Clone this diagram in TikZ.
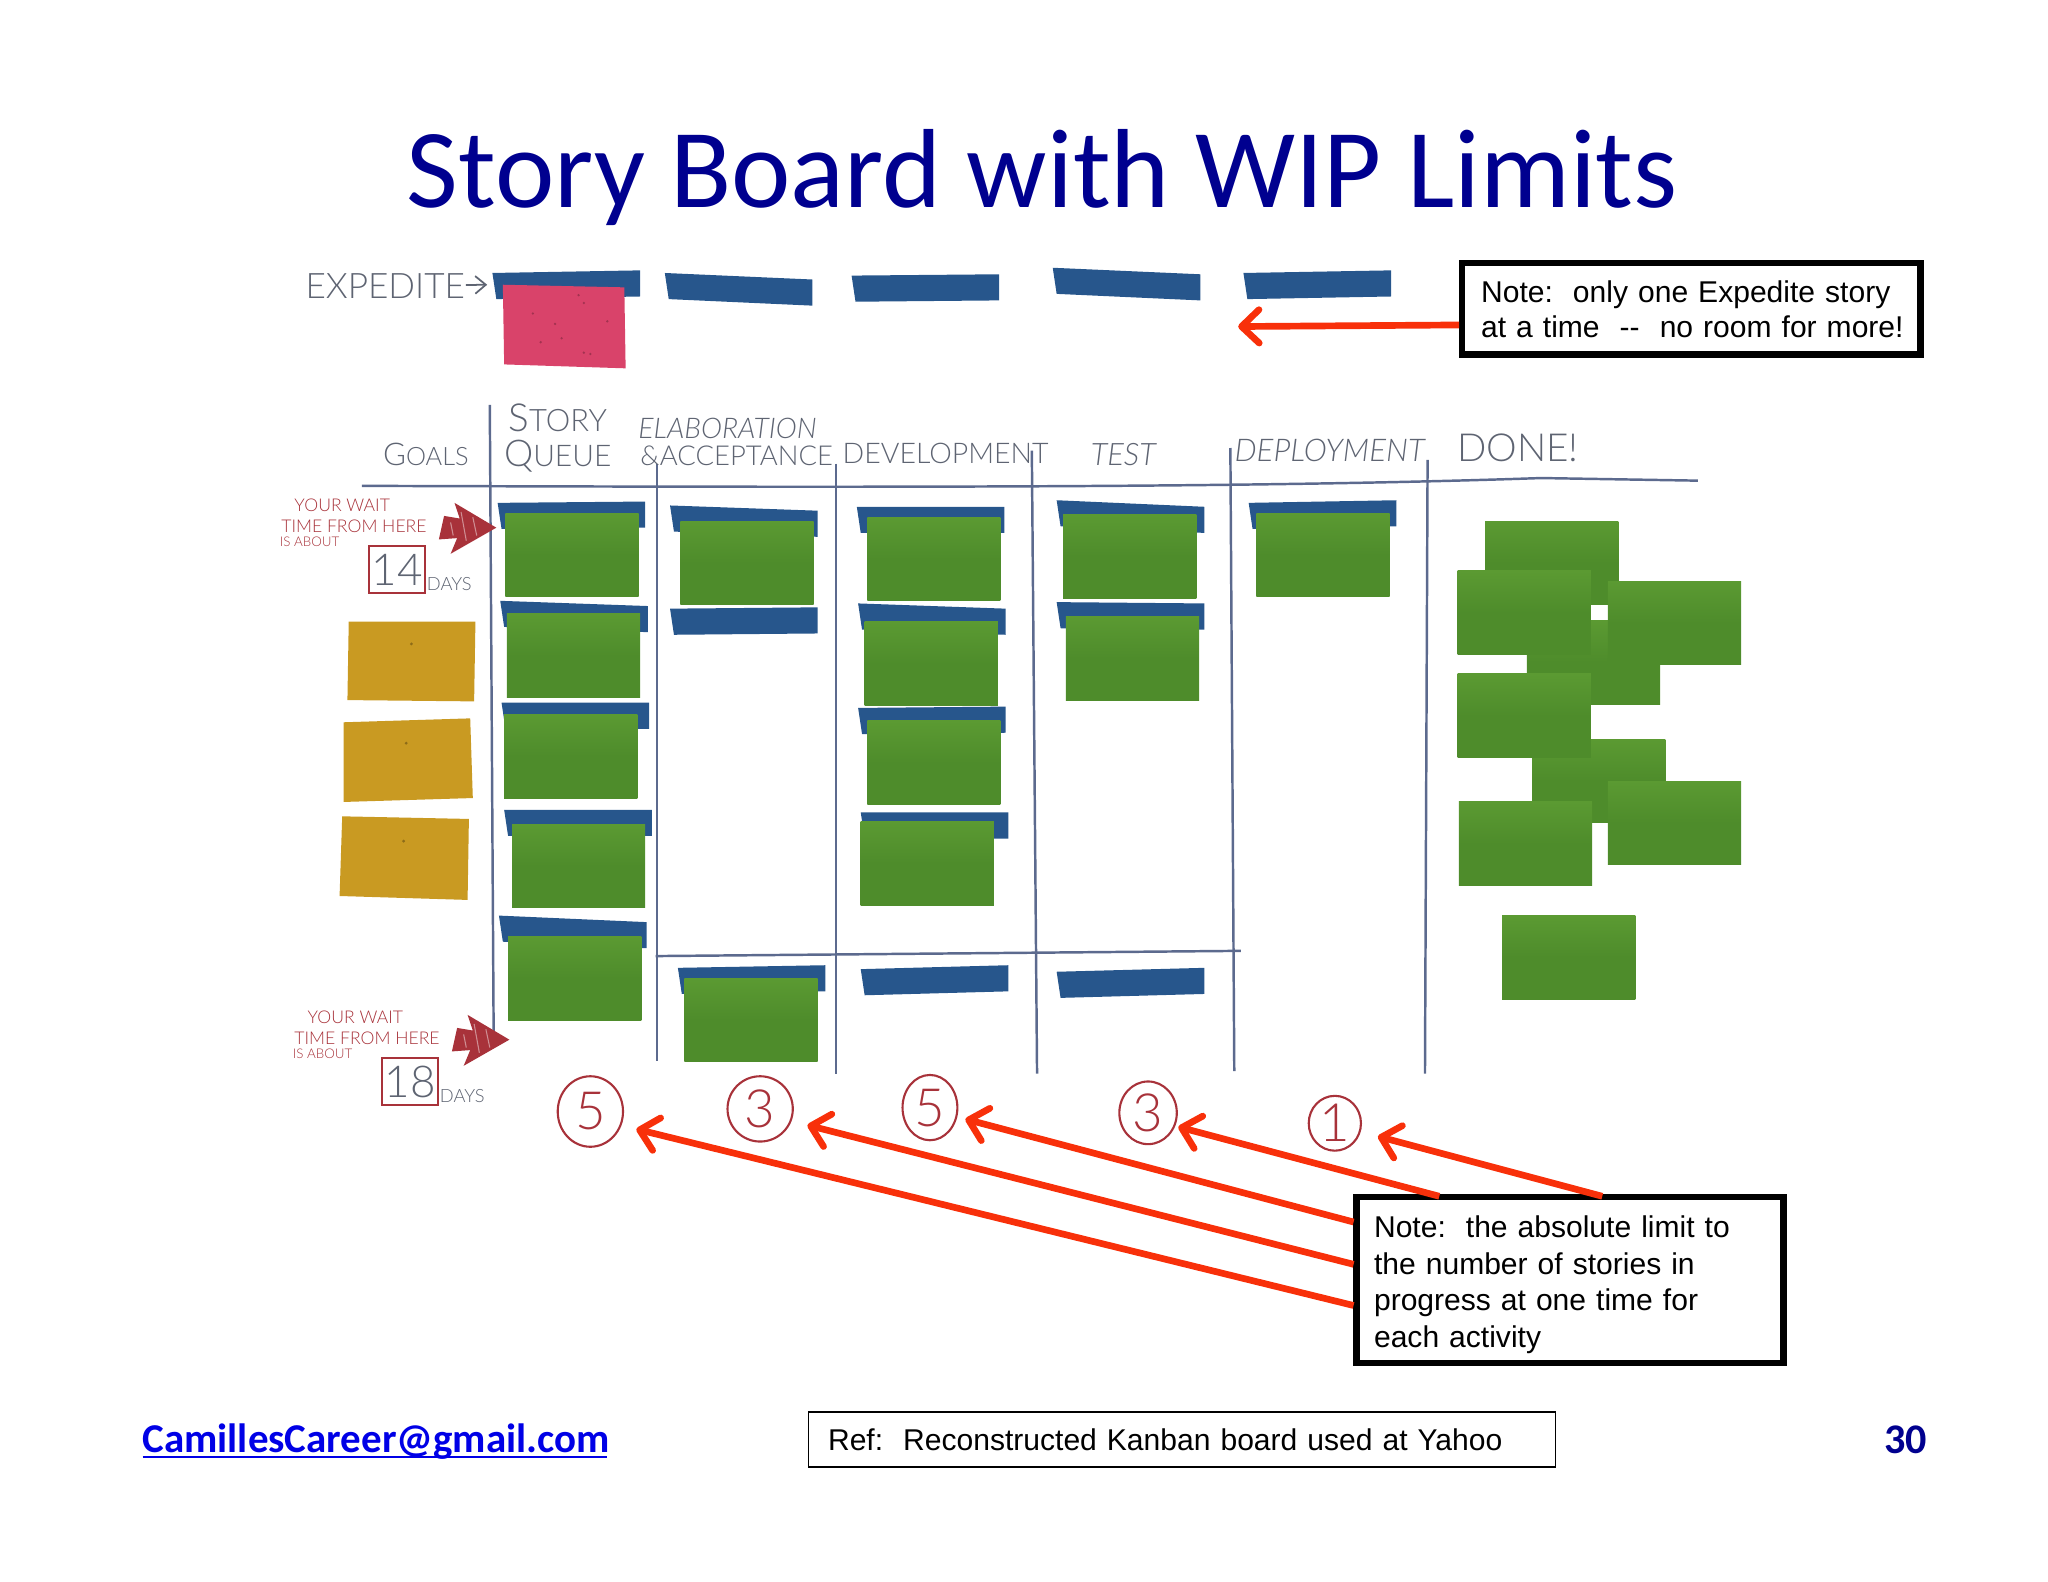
\documentclass[tikz,border=0pt]{standalone}
\usepackage{fontspec}
\usetikzlibrary{arrows.meta}
\setmainfont{Liberation Sans}
\newfontfamily\titlefont{Carlito}
\newfontfamily\handfont{Lato}[UprightFont=* Light,ItalicFont=* Light Italic]
\definecolor{titleblue}{HTML}{00008F}
\definecolor{mailblue}{HTML}{0000E6}
\definecolor{arrowred}{HTML}{F8300A}
\definecolor{tabblue}{HTML}{27568C}
\definecolor{cardgreen}{HTML}{4E8C2B}
\definecolor{cardgreenlight}{HTML}{5B9A32}
\definecolor{cardgold}{HTML}{C99A22}
\definecolor{cardpink}{HTML}{D9436A}
\definecolor{boardline}{HTML}{5C6A8E}
\definecolor{pengrey}{HTML}{5E6472}
\definecolor{penred}{HTML}{A8323A}
\tikzset{
    note/.style={draw, line width=1.85pt, align=left, font=\fontsize{8.55}{#1}\selectfont\frenchspacing, outer sep=0pt},
    tipline/.style={draw=arrowred, line width=1.9pt, shorten <=0.03cm, -{Straight Barb[length=5pt, width=9.5pt, round]}},
    greencard/.style={top color=cardgreenlight, bottom color=cardgreen, middle color=cardgreen},
    boardrule/.style={draw=boardline, line width=0.7pt},
    hand/.style={text=pengrey, font=\handfont\fontsize{#1}{#1}\selectfont, inner sep=0pt},
    waithand/.style={text=penred, font=\handfont\fontsize{#1}{#1}\selectfont, inner sep=0pt},
    limit/.style={circle, inner sep=0pt, outer sep=0pt, text=penred, font=\handfont\fontsize{15}{15}\selectfont, minimum size=#1}
}
\begin{document}
\begin{tikzpicture}[x=0.013061cm, y=-0.013061cm]
    \useasboundingbox (0, 0) rectangle (1568, 1211);
    \node[text=titleblue, font=\titlefont\fontsize{32}{32}\selectfont, inner sep=0pt] (title) at (798, 136) {Story Board with WIP Limits};
    % Blue holders
    \foreach \x/\y/\t in {377/209/-2, 509/209/5, 652/211/-1, 806/205/5, 952/209/-2,
            381/385/-1, 383/460/4, 384/538/0, 386/620/0, 382/701/5,
            513/387/4, 513/466/-1, 519/741/-2,
            656/388/0, 657/462/4, 657/542/-1, 659/622/0, 659/742/-3,
            809/383/5, 809/461/1, 809/744/-3, 956/385/-2} {
            \fill[tabblue] (\x, \y) -- (\x+113, \y+\t) -- (\x+113, \y+\t+20) -- (\x+3, \y+20) -- cycle;
        }
    \fill[cardpink] (385, 218) -- (478, 220) -- (479, 282) -- (386, 279) -- cycle;
    \foreach \x/\y in {408/240, 425/248, 443/226, 447/232, 414/262, 430/259, 447/270, 452/271, 465/246} {
            \fill[cardpink!75!black] (\x, \y) circle (1);
        }
    % Story cards on the board
    \foreach \x/\y in {387/393, 388/470, 386/547, 392/631, 389/717, 521/399, 524/749,
            664/396, 662/476, 664/552, 659/629, 814/394, 816/472, 962/393,
            1137/399, 1169/475, 1116/437, 1231/445, 1173/566, 1116/516, 1117/614, 1231/598, 1150/701} {
            \shade[greencard] (\x, \y) rectangle (\x+102, \y+64);
        }
    % Goals
    \fill[cardgold] (267, 476) -- (364, 476) -- (363, 537) -- (266, 536) -- cycle;
    \fill[cardgold] (263, 553) -- (360, 550) -- (362, 611) -- (263, 614) -- cycle;
    \fill[cardgold] (262, 625) -- (359, 627) -- (358, 689) -- (260, 686) -- cycle;
    \foreach \x/\y in {315/493, 311/569, 309/644} {
            \fill[cardgold!70!black] (\x, \y) circle (1.2);
        }
    % Board lines
    \draw[boardrule] (277, 372) .. controls (640, 373) and (950, 374) .. (1180, 366) -- (1300, 368);
    \draw[boardrule] (502, 732) -- (950, 728);
    \foreach \xa/\ya/\xb/\yb in {375/310/378/800, 503/355/503/812, 640/355/640/822,
            790/345/794/822, 942/343/945/820, 1093/352/1091/822} {
            \draw[boardrule] (\xa, \ya) -- (\xb, \yb);
        }
    % Column titles
    \node[hand=10] (expedite) at (295, 219) {EXPEDITE};
    \coordinate (expeditetip) at (373, 218);
    \draw[draw=pengrey, line width=0.5pt, -{Straight Barb[length=3pt, width=5pt]}] (expedite) -- (expeditetip);
    \node[hand=8.9] (goals) at (326, 348) {G\fontsize{7.2}{7.2}\selectfont OALS};
    \node[hand=11] (story) at (427, 320) {S\fontsize{8.8}{8.8}\selectfont TORY};
    \node[hand=10.5] (queue) at (427, 349) {Q\fontsize{8.5}{8.5}\selectfont UEUE};
    \node[hand=8.1] (elab) at (557, 328) {\itshape ELABORATION};
    \node[hand=7.8] (accept) at (564, 349) {\&ACCEPTANCE};
    \node[hand=8.1] (develop) at (724, 347) {DEVELOPMENT};
    \node[hand=8.8] (test) at (860, 348) {\itshape TEST};
    \node[hand=8.9] (deploy) at (1018, 345) {\itshape DEPLOYMENT};
    \node[hand=11] (done) at (1162, 343) {DONE!};
    % Wait times
    \foreach \sx/\sy/\num in {0/0/14, 10/392/18} {
            \node[waithand=5] (waita\num) at (262+\sx, 387+\sy) {YOUR WAIT};
            \node[waithand=5] (waitb\num) at (271+\sx, 403+\sy) {TIME FROM HERE};
            \node[waithand=3.8] (waitc\num) at (237+\sx, 415+\sy) {IS ABOUT};
            \node[draw=penred, line width=0.4pt, minimum width=0.56cm, minimum height=0.47cm, inner sep=0pt, text=pengrey, font=\handfont\fontsize{12.5}{12.5}\selectfont] (waitbox\num) at (304+\sx, 436+\sy) {\num};
            \node[hand=5.2] (waitdays\num) at (344+\sx, 447+\sy) {DAYS};
            \fill[penred] (348+\sx, 385+\sy) -- (380+\sx, 404+\sy) -- (345+\sx, 424+\sy) -- (350+\sx, 412+\sy) -- (336+\sx, 413+\sy) -- (340+\sx, 395+\sy) -- (352+\sx, 397+\sy) -- cycle;
            \draw[penred!55!white, line width=0.3pt] (353+\sx, 392+\sy) -- (357+\sx, 414+\sy) (362+\sx, 396+\sy) -- (365+\sx, 410+\sy) (345+\sx, 400+\sy) -- (347+\sx, 410+\sy);
        }
    % Limits
    \node[limit=0.985cm] (limone) at (452, 851) {5};
    \node[limit=1cm] (limtwo) at (582, 849) {3};
    \node[limit=0.745cm] (limthree) at (712, 848) {5};
    \node[limit=0.666cm] (limfour) at (879, 852) {3};
    \node[limit=0.9cm] (limfive) at (1022, 860) {1};
    \foreach \n/\rx/\ry in {one/25/27, two/25/25, three/21/25, four/22/24, five/20/21} {
            \draw[draw=penred, line width=0.6pt] (lim\n.center) ellipse [x radius=\rx, y radius=\ry];
        }
    % Notes
    \node[note=10, minimum height=0.914cm, inner xsep=0.19cm, inner ysep=0pt, text width=4.206cm] (expnote) at (1295, 236.5) {\mbox{Note:~ only one Expedite story}\\\mbox{at a time~ -{}-~ no room for more!}};
    \node[note=10.4, minimum height=1.659cm, inner xsep=0.176cm, inner ysep=0pt, text width=3.918cm] (limitnote) at (1202, 980) {\rule{0pt}{9pt}Note:~ the absolute limit to\\the number of stories in\\progress at one time for\\each activity};
    \coordinate (exptip) at (948, 250);
    \draw[tipline] (expnote.184.4) -- (exptip);
    \draw[tipline] (limitnote.187.2) -- (limone.-21.8);
    \draw[tipline] (limitnote.176.6) -- (limtwo.-19.9);
    \draw[tipline] (limitnote.165.2) -- (limthree.-18.4);
    \draw[tipline] (limitnote.147.1) -- (limfour.-25.6);
    \draw[tipline] (limitnote.67) -- (limfive.-17);
    % Footer
    \node[draw, line width=0.4pt, minimum height=0.549cm, inner xsep=0.196cm, inner ysep=0pt, text width=7.079cm, align=left, font=\fontsize{8.55}{10}\selectfont\frenchspacing] (refbox) at (905, 1102) {Ref:~ Reconstructed Kanban board used at Yahoo};
    \node[text=mailblue, font=\titlefont\bfseries\fontsize{11.65}{11.65}\selectfont, inner sep=0pt] (mail) at (288, 1104) {\makebox[0pt][l]{\rule[-1.4pt]{132.2pt}{0.6pt}}CamillesCareer@gmail.com};
    \node[text=titleblue, font=\titlefont\bfseries\fontsize{12}{12}\selectfont, inner sep=0pt] (page) at (1459, 1102) {30};
\end{tikzpicture}
\end{document}
